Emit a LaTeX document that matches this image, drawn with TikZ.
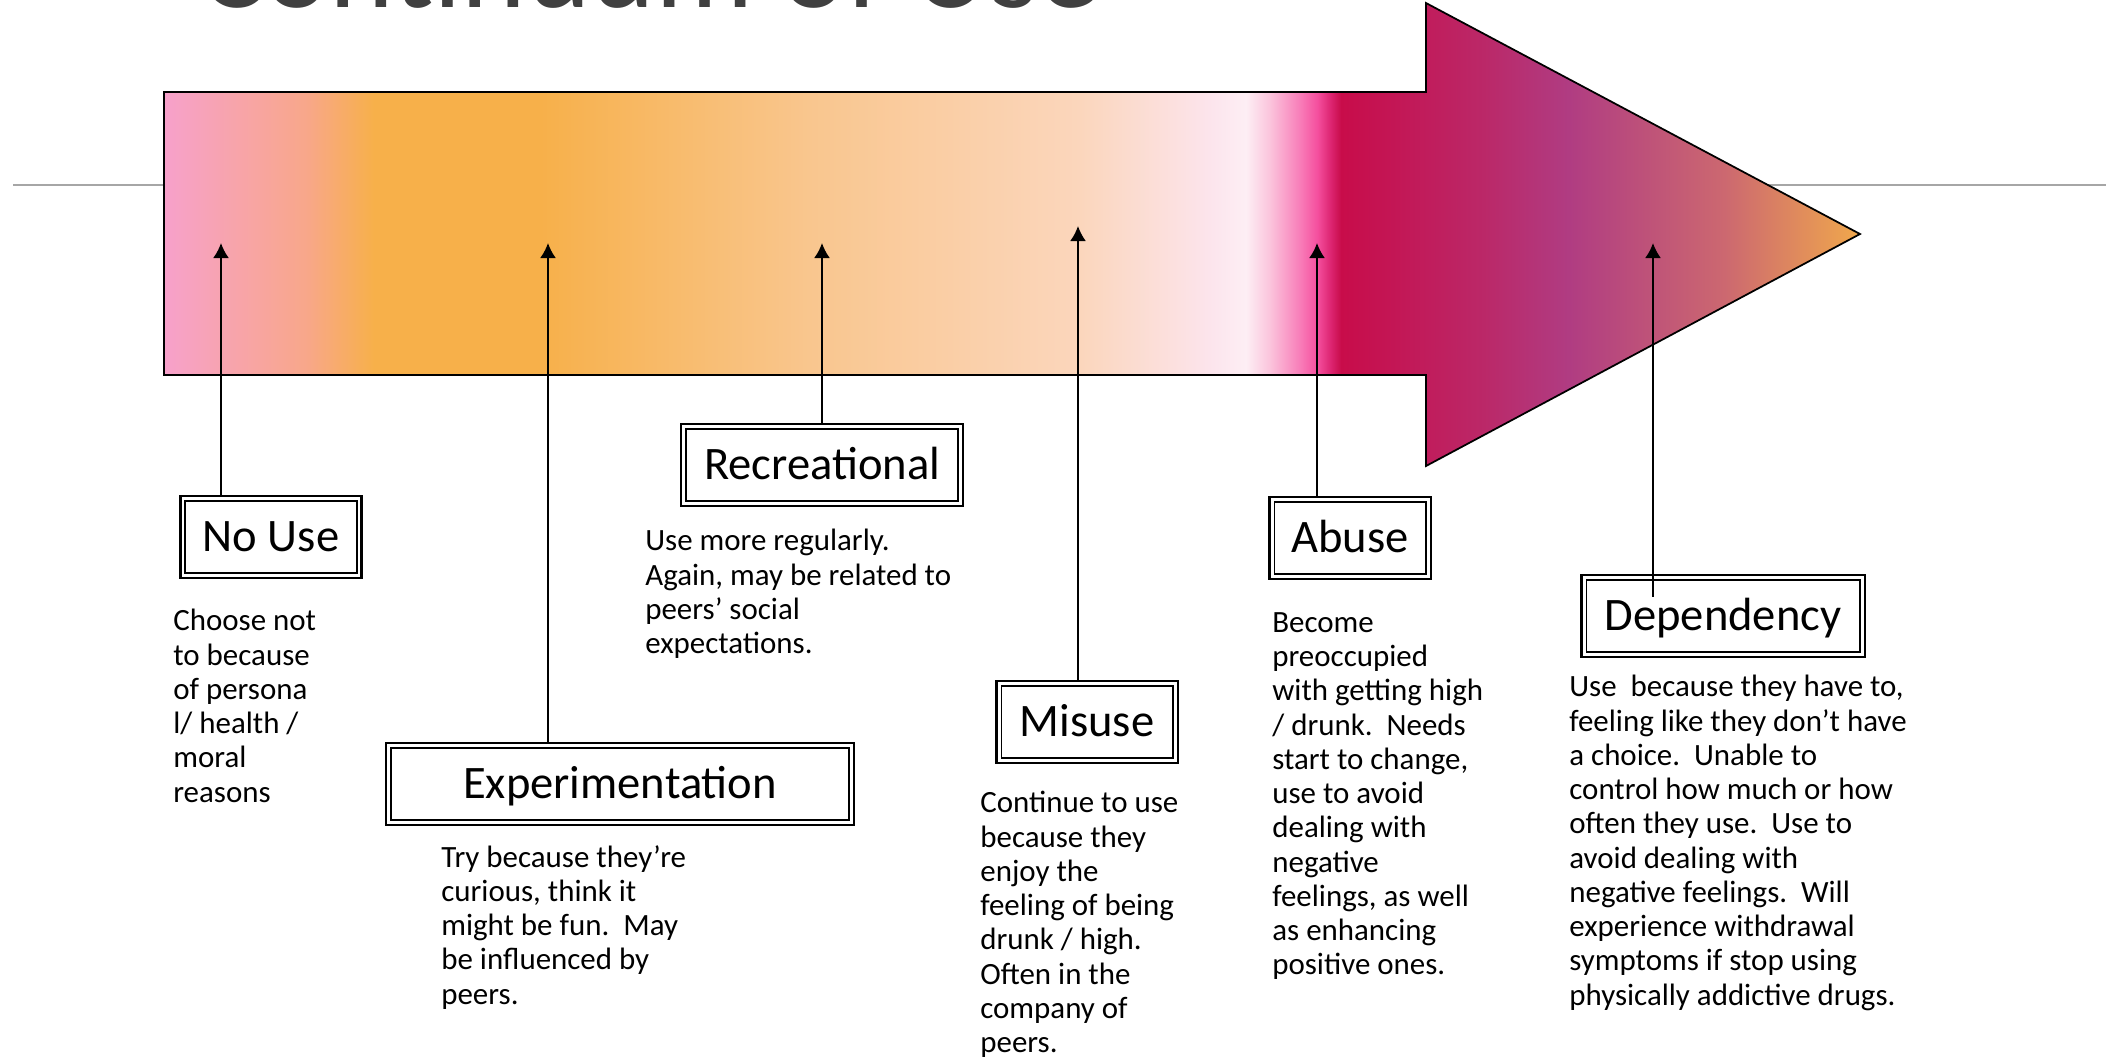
\documentclass[tikz,border=0pt]{standalone}
\usepackage{fontspec}
\setmainfont{Carlito}
\usetikzlibrary{arrows.meta,calc}

\definecolor{titlegray}{HTML}{404040}
\definecolor{rulegray}{HTML}{A6A6A6}
% colours along the big arrow, left to right
\definecolor{cuPink}{HTML}{F7A1CB}
\definecolor{cuSalmon}{HTML}{F8A78A}
\definecolor{cuOrange}{HTML}{F7B04A}
\definecolor{cuPeach}{HTML}{F9C68E}
\definecolor{cuCream}{HTML}{FBD6BC}
\definecolor{cuBlush}{HTML}{FCE4EC}
\definecolor{cuWhite}{HTML}{FDEEF4}
\definecolor{cuRoseL}{HTML}{FBC4DC}
\definecolor{cuRoseM}{HTML}{F87CB8}
\definecolor{cuHot}{HTML}{F54F9E}
\definecolor{cuCerise}{HTML}{DC2470}
\definecolor{cuCrimson}{HTML}{C80C4A}
\definecolor{cuRaspberry}{HTML}{BB2868}
\definecolor{cuPlum}{HTML}{B03C82}
\definecolor{cuRose}{HTML}{CC6870}
\definecolor{cuTip}{HTML}{F0A84C}

\pgfdeclarehorizontalshading{continuum}{100bp}{%
  color(0bp)=(cuPink);
  color(25bp)=(cuPink);
  color(29.2bp)=(cuSalmon);
  color(31.2bp)=(cuOrange);
  color(36.1bp)=(cuOrange);
  color(44bp)=(cuPeach);
  color(52bp)=(cuCream);
  color(55.8bp)=(cuBlush);
  color(56.9bp)=(cuWhite);
  color(57.6bp)=(cuRoseL);
  color(58.5bp)=(cuRoseM);
  color(59bp)=(cuHot);
  color(59.4bp)=(cuCerise);
  color(59.7bp)=(cuCrimson);
  color(63.9bp)=(cuRaspberry);
  color(66.4bp)=(cuPlum);
  color(71bp)=(cuRose);
  color(75bp)=(cuTip);
  color(100bp)=(cuTip)}

\begin{document}
\begin{tikzpicture}[x=0.2mm, y=-0.2mm,
  stage/.style={draw, fill=white, double, line width=1pt, double distance=1.7pt,
    preaction={draw, line width=4.5pt}, outer sep=2.25pt,
    minimum height=15.4mm, text height=20.5pt, text depth=3.7pt,
    font=\fontsize{26.5}{30}\selectfont},
  desc/.style={anchor=north west, inner sep=0pt, align=left,
    font=\fontsize{17.6}{19.5}\selectfont},
  link/.style={line width=1.2pt, -{Latex[length=3mm,width=3.2mm]}}]

\path[use as bounding box] (0,0) rectangle (2114,1060);
\clip (0,0) rectangle (2114,1060);

\node[anchor=base west, inner sep=0pt, text=titlegray,
  font=\fontsize{70}{80}\selectfont] (title) at (199,7) {Continuum of Use};

\draw[rulegray, line width=1pt] (13,185) -- (2106,185);

% the big arrow
\shadedraw[shading=continuum, line width=1pt]
  (164,92) -- (1426,92) -- (1426,3) -- (1860,234) -- (1426,466)
  -- (1426,375) -- (164,375) -- cycle;

% stages
\node[stage, minimum width=35.2mm] (nouse) at (271,537) {No Use};
\node[stage, minimum width=55.4mm] (recreational) at (822,465) {Recreational};
\node[stage, minimum width=92.6mm] (experiment) at (620,784) {Experimentation};
\node[stage, minimum width=35.2mm] (misuse) at (1087,722) {Misuse};
\node[stage, minimum width=31.2mm] (abuse) at (1350,538) {Abuse};
\node[stage, minimum width=55.6mm] (dependency) at (1723,616) {Dependency};

% where the pointers end on the arrow
\coordinate (nousetip) at (221,243);
\coordinate (exptip) at (548,243);
\coordinate (rectip) at (822,243);
\coordinate (misusetip) at (1078,226);
\coordinate (abusetip) at (1317,243);
\coordinate (deptip) at (1653,243);

\draw[link] (nouse.north -| nousetip) -- (nousetip);
\draw[link] (experiment.north -| exptip) -- (exptip);
\draw[link] (recreational.north -| rectip) -- (rectip);
\draw[link] (misuse.north -| misusetip) -- (misusetip);
\draw[link] (abuse.north -| abusetip) -- (abusetip);
\draw[link] ($(dependency.north -| deptip)+(0,23)$) -- (deptip);

% descriptions
\node[desc] (nousetxt) at (173,609) {Choose not\\to because\\of persona\\l/ health /\\moral\\reasons};
\node[desc] (rectxt) at (645,529) {Use more regularly.\\Again, may be related to\\peers’ social\\expectations.};
\node[desc] (exptxt) at (441,845) {Try because they’re\\curious, think it\\might be fun.\ \ May\\be influenced by\\peers.};
\node[desc] (misusetxt) at (980,791) {Continue to use\\because they\\enjoy the\\feeling of being\\drunk / high.\\Often in the\\company of\\peers.};
\node[desc] (abusetxt) at (1272,612) {Become\\preoccupied\\with getting high\\/ drunk.\ \ Needs\\start to change,\\use to avoid\\dealing with\\negative\\feelings, as well\\as enhancing\\positive ones.};
\node[desc] (deptxt) at (1569,675) {Use\ \ because they have to,\\feeling like they don’t have\\a choice.\ \ Unable to\\control how much or how\\often they use.\ \ Use to\\avoid dealing with\\negative feelings.\ \ Will\\experience withdrawal\\symptoms if stop using\\physically addictive drugs.};
\end{tikzpicture}
\end{document}
